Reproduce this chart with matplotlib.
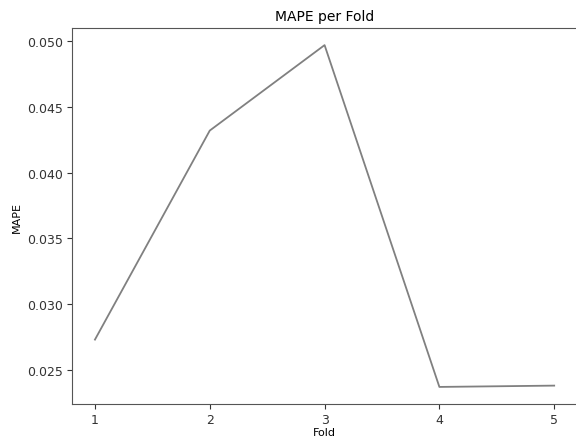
import numpy as np
import matplotlib
matplotlib.use('Agg')
import matplotlib.pyplot as plt

# fold별 MAPE
folds = [1, 2, 3, 4, 5]
mape = [0.0273, 0.0432, 0.0497, 0.0237, 0.0238]

fig = plt.figure(figsize=(5.76, 4.39), dpi=100)
ax = fig.add_axes([0.125, 0.0774, 0.877, 0.8565])

ax.plot(folds, mape, color='gray', linewidth=1.3)
ax.set_title("MAPE per Fold", fontsize=10)
ax.set_xlabel("Fold", fontsize=8, labelpad=1)
ax.set_ylabel("MAPE", fontsize=8)
ax.set_xticks(folds)
ax.set_yticks([0.025, 0.030, 0.035, 0.040, 0.045, 0.050])
ax.tick_params(labelsize=9, colors='#333333', pad=3)
for s in ax.spines.values():
    s.set_color('#555555')

fig.savefig("out.png", dpi=100)
